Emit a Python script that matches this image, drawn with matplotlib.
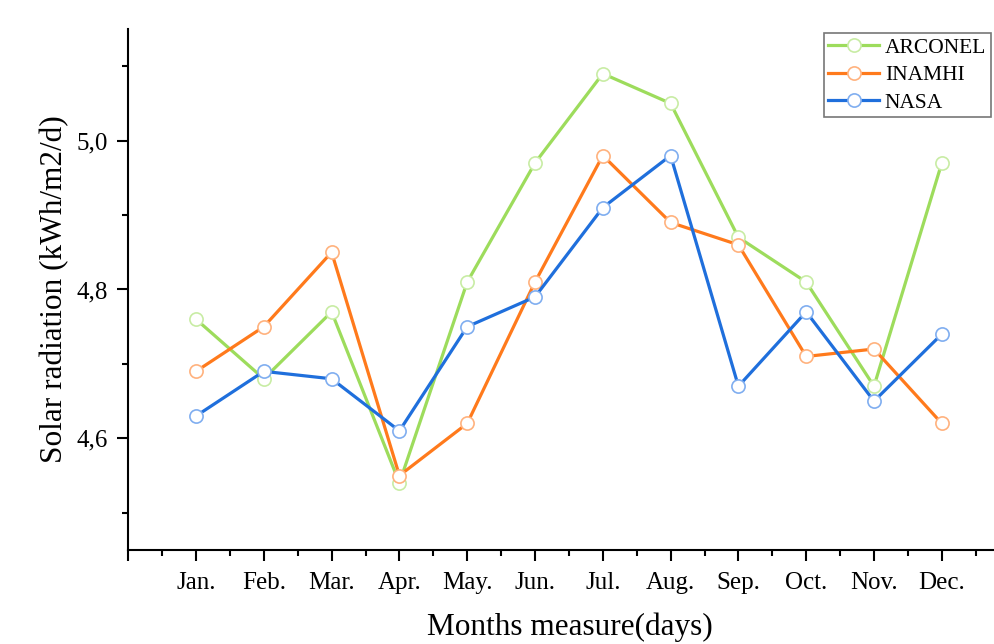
import matplotlib.pyplot as plt
from matplotlib.ticker import MultipleLocator, FixedLocator

months = ['Jan.', 'Feb.', 'Mar.', 'Apr.', 'May.', 'Jun.',
          'Jul.', 'Aug.', 'Sep.', 'Oct.', 'Nov.', 'Dec.']
arconel = [4.76, 4.68, 4.77, 4.54, 4.81, 4.97, 5.09, 5.05, 4.87, 4.81, 4.67, 4.97]
inamhi = [4.69, 4.75, 4.85, 4.55, 4.62, 4.81, 4.98, 4.89, 4.86, 4.71, 4.72, 4.62]
nasa = [4.63, 4.69, 4.68, 4.61, 4.75, 4.79, 4.91, 4.98, 4.67, 4.77, 4.65, 4.74]

plt.rcParams['font.family'] = 'Liberation Serif'

fig = plt.figure(figsize=(9.94, 6.44), dpi=100)
ax = fig.add_axes([0.129, 0.146, 0.871, 0.809])

x = range(1, len(months) + 1)
ax.plot(x, arconel, color='#9ddc5c', lw=2.3, marker='o', ms=9.5,
        mfc='white', mec='#c8eca4', mew=1.2, label='ARCONEL')
ax.plot(x, inamhi, color='#ff7a1c', lw=2.3, marker='o', ms=9.5,
        mfc='white', mec='#ffb27e', mew=1.2, label='INAMHI')
ax.plot(x, nasa, color='#1f6fdc', lw=2.3, marker='o', ms=9.5,
        mfc='white', mec='#80aef0', mew=1.2, label='NASA')

ax.set_xlim(0, 12.77)
ax.set_ylim(4.45, 5.15)

ax.xaxis.set_major_locator(FixedLocator(range(0, 13)))
ax.set_xticklabels([''] + months)
ax.xaxis.set_minor_locator(MultipleLocator(0.5))
ax.yaxis.set_major_locator(MultipleLocator(0.2))
ax.yaxis.set_minor_locator(MultipleLocator(0.1))
ax.yaxis.set_major_formatter(plt.FuncFormatter(lambda v, p: f'{v:.1f}'.replace('.', ',')))

ax.tick_params(which='major', direction='out', length=8, width=1.5, labelsize=18, pad=8)
ax.tick_params(which='minor', direction='out', length=4, width=1.5)
ax.tick_params(axis='y', which='major', pad=7)

ax.spines['top'].set_visible(False)
ax.spines['right'].set_visible(False)
ax.spines['left'].set_linewidth(1.5)
ax.spines['bottom'].set_linewidth(1.5)

ax.set_xlabel('Months measure(days)', fontsize=22.5)
ax.xaxis.set_label_coords(0.51, -0.12)
ax.set_ylabel('Solar radiation (kWh/m2/d)', fontsize=22.5, labelpad=5)

leg = ax.legend(loc='upper right', bbox_to_anchor=(0.996, 0.992), borderaxespad=0,
                fontsize=15.5, frameon=True, fancybox=False, edgecolor='#555555',
                handlelength=2.4, handletextpad=0.25, borderpad=0.2, labelspacing=0.35)
leg.get_frame().set_linewidth(1.2)

fig.savefig('out.png', dpi=100)
